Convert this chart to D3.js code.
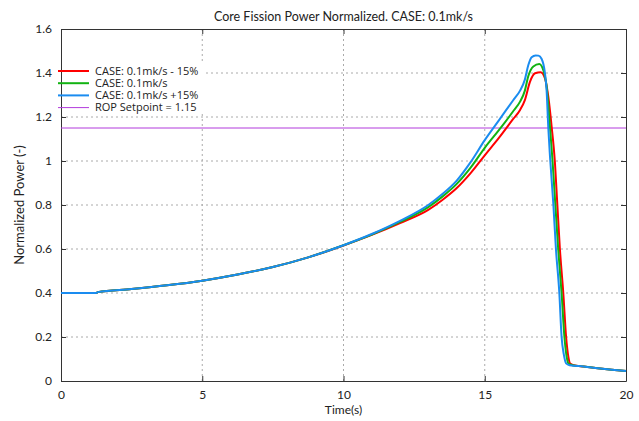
<!DOCTYPE html>
<html>
<head>
<meta charset="utf-8">
<script src="https://cdn.jsdelivr.net/npm/d3@7"></script>
<style>
  body { margin: 0; background: #fff; }
  svg text { font-family: Lato, "Open Sans", sans-serif; fill: #222; }
  .grid line { stroke: #aaa; stroke-dasharray: 2,3; }
</style>
</head>
<body>
<svg id="chart" width="639" height="421"></svg>
<script>
// [time (s), normalized power]
const caseMinus15 = [
    [0, 0.400], [1.25, 0.400], [1.3, 0.404], [2.5, 0.418], [3.75, 0.435], [5, 0.456],
    [6.25, 0.484], [7.5, 0.518], [8.75, 0.562], [10, 0.616], [11, 0.664], [12, 0.718],
    [13, 0.778], [13.5, 0.823], [14, 0.876], [14.5, 0.945], [15, 1.026], [15.5, 1.105],
    [16, 1.19], [16.25, 1.232], [16.42, 1.277], [16.6, 1.36], [16.78, 1.399],
    [16.98, 1.403], [17.13, 1.376], [17.25, 1.292], [17.37, 1.153], [17.48, 1.0],
    [17.57, 0.8], [17.66, 0.6], [17.78, 0.4], [17.88, 0.2], [17.96, 0.11], [18.02, 0.08],
    [18.15, 0.072], [18.5, 0.066], [19, 0.058], [19.5, 0.051], [20, 0.045]
];
const caseNominal = [
    [0, 0.400], [1.25, 0.400], [1.3, 0.404], [2.5, 0.418], [3.75, 0.435], [5, 0.456],
    [6.25, 0.484], [7.5, 0.518], [8.75, 0.562], [10, 0.617], [11, 0.666], [12, 0.723],
    [13, 0.790], [13.5, 0.838], [14, 0.895], [14.5, 0.970], [15, 1.06], [15.5, 1.14],
    [16, 1.225], [16.25, 1.27], [16.42, 1.32], [16.54, 1.385], [16.72, 1.43],
    [16.93, 1.441], [17.07, 1.414], [17.19, 1.338], [17.31, 1.153], [17.4, 1.0],
    [17.5, 0.8], [17.6, 0.6], [17.72, 0.4], [17.82, 0.2], [17.9, 0.11], [17.96, 0.08],
    [18.1, 0.072], [18.5, 0.066], [19, 0.058], [19.5, 0.051], [20, 0.045]
];
const casePlus15 = [
    [0, 0.400], [1.25, 0.400], [1.3, 0.404], [2.5, 0.418], [3.75, 0.435], [5, 0.456],
    [6.25, 0.484], [7.5, 0.518], [8.75, 0.562], [10, 0.617], [11, 0.668], [12, 0.728],
    [13, 0.800], [13.5, 0.850], [14, 0.910], [14.5, 0.995], [15, 1.095], [15.5, 1.185],
    [16, 1.275], [16.25, 1.32], [16.42, 1.37], [16.54, 1.435], [16.66, 1.472],
    [16.8, 1.48], [16.9, 1.479], [17.01, 1.465], [17.13, 1.40], [17.19, 1.32],
    [17.25, 1.15], [17.31, 1.02], [17.43, 0.8], [17.52, 0.6], [17.64, 0.4], [17.72, 0.2],
    [17.8, 0.12], [17.88, 0.08], [18, 0.072], [18.5, 0.066], [19, 0.058], [19.5, 0.051],
    [20, 0.045]
];
const ropSetpoint = 1.15;

const seriesNames = ["CASE: 0.1mk/s - 15%", "CASE: 0.1mk/s", "CASE: 0.1mk/s +15%", "ROP Setpoint = 1.15"];
const seriesColors = ["#ff0000", "#12b312", "#1a8cf0", "#b23bdc"];
const xTicks = [0, 5, 10, 15, 20];
const yTicks = [0, 0.2, 0.4, 0.6, 0.8, 1, 1.2, 1.4, 1.6];

const margin = { top: 29, right: 13, bottom: 40, left: 61 };
const svg = d3.select("#chart");
const width = +svg.attr("width") - margin.left - margin.right;
const height = +svg.attr("height") - margin.top - margin.bottom;

const x = d3.scaleLinear().domain([0, 20]).range([0, width]);
const y = d3.scaleLinear().domain([0, 1.6]).range([height, 0]);

const g = svg.append("g").attr("transform", `translate(${margin.left},${margin.top})`);

// dotted grid
g.append("g").attr("class", "grid")
    .selectAll("line.v")
    .data(xTicks.slice(1, -1))
    .join("line")
    .attr("x1", d => x(d)).attr("x2", d => x(d))
    .attr("y1", 0).attr("y2", height);
g.append("g").attr("class", "grid")
    .selectAll("line.h")
    .data(yTicks.slice(1, -1))
    .join("line")
    .attr("x1", 0).attr("x2", width)
    .attr("y1", d => y(d)).attr("y2", d => y(d));

// axes, ticks pointing inward on all four sides
const fmt = d => d3.format("~g")(d);
const axisStyle = sel => {
    sel.select(".domain").attr("stroke", "#333");
    sel.selectAll(".tick line").attr("stroke", "#333");
    sel.selectAll("text").style("font-size", "12px").attr("fill", "#222");
};
g.append("g").attr("transform", `translate(0,${height})`)
    .call(d3.axisBottom(x).tickValues(xTicks).tickFormat(fmt).tickSizeInner(-5).tickSizeOuter(0).tickPadding(9))
    .call(axisStyle);
g.append("g")
    .call(d3.axisLeft(y).tickValues(yTicks).tickFormat(fmt).tickSizeInner(-5).tickSizeOuter(0).tickPadding(9))
    .call(axisStyle);
g.append("g")
    .call(d3.axisTop(x).tickValues(xTicks).tickFormat("").tickSizeInner(-5).tickSizeOuter(0))
    .call(axisStyle);
g.append("g").attr("transform", `translate(${width},0)`)
    .call(d3.axisRight(y).tickValues(yTicks).tickFormat("").tickSizeInner(-5).tickSizeOuter(0))
    .call(axisStyle);

// setpoint line
g.append("line")
    .attr("x1", 0).attr("x2", width)
    .attr("y1", y(ropSetpoint)).attr("y2", y(ropSetpoint))
    .attr("stroke", seriesColors[3]).attr("stroke-width", 1);

// curves, +15% on top
const line = d3.line()
    .curve(d3.curveMonotoneX)
    .x(d => x(d[0]))
    .y(d => y(d[1]));
[caseMinus15, caseNominal, casePlus15].forEach((data, i) => {
    g.append("path")
        .datum(data)
        .attr("fill", "none")
        .attr("stroke", seriesColors[i])
        .attr("stroke-width", 2)
        .attr("stroke-linejoin", "round")
        .attr("d", line);
});

// legend
const legend = g.append("g").attr("transform", "translate(1,35)");
legend.append("rect")
    .attr("x", 0).attr("y", 0).attr("width", 141).attr("height", 50)
    .attr("fill", "#fff");
const rows = legend.selectAll("g.row")
    .data(seriesNames)
    .join("g")
    .attr("class", "row")
    .attr("transform", (d, i) => `translate(0,${7 + i * 12.2})`);
rows.append("line")
    .attr("x1", -4).attr("x2", 27)
    .attr("stroke", (d, i) => seriesColors[i])
    .attr("stroke-width", (d, i) => i < 3 ? 2 : 1);
rows.append("text")
    .attr("x", 33).attr("dy", "0.35em")
    .style("font-family", "'Open Sans', sans-serif")
    .style("font-size", "11px")
    .text(d => d);

// titles
svg.append("text")
    .attr("x", margin.left + width / 2).attr("y", 21)
    .attr("text-anchor", "middle")
    .style("font-size", "12.5px")
    .text("Core Fission Power Normalized. CASE: 0.1mk/s");
svg.append("text")
    .attr("x", margin.left + width / 2).attr("y", 414)
    .attr("text-anchor", "middle")
    .style("font-size", "12px")
    .text("Time(s)");
svg.append("text")
    .attr("transform", `translate(24,${margin.top + height / 2}) rotate(-90)`)
    .attr("text-anchor", "middle")
    .style("font-size", "13px")
    .text("Normalized Power (-)");
</script>
</body>
</html>
